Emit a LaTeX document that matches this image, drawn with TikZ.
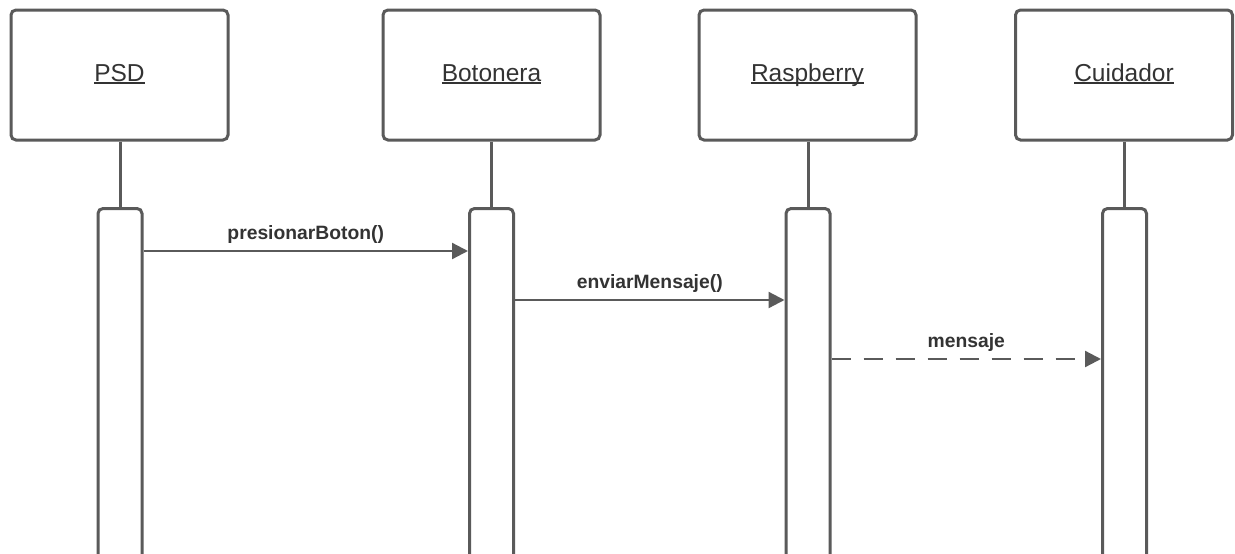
\documentclass[tikz,border=0pt]{standalone}
\usepackage{fontspec}
\setmainfont{Liberation Sans}
\usetikzlibrary{arrows.meta}
\definecolor{ln}{HTML}{5A5A5A}
\definecolor{tx}{HTML}{333333}
\newcommand\myul[1]{\setbox0\hbox{#1}\rlap{\rule[-2.8pt]{\wd0}{1.6pt}}\box0}
\tikzset{
  head/.style={draw=ln, line width=3pt, rounded corners=5pt, minimum width=217pt, minimum height=130pt, inner sep=0pt, fill=white, text=tx, text height=17pt, text depth=5pt, font=\fontsize{24.5}{29}\selectfont},
  act/.style={draw=ln, line width=3pt, rounded corners=5pt, minimum width=44pt, minimum height=380pt, anchor=north, inner sep=0pt, fill=white},
  life/.style={draw=ln, line width=3pt},
  msg/.style={draw=ln, line width=2.3pt, -{Triangle[length=16pt,width=16pt]}},
  dmsg/.style={msg, dash pattern=on 19pt off 13pt},
  lbl/.style={text=tx, font=\bfseries\fontsize{19.3}{23}\selectfont, inner sep=0pt, text depth=0pt}
}
\begin{document}
\begin{tikzpicture}[x=1pt,y=-1pt]
\useasboundingbox (0,0) rectangle (1235,554);
\clip (0,0) rectangle (1235,554);
\fill[white] (0,0) rectangle (1235,554);
\node[head] (h1) at (119.5,75) {\myul{PSD}};
\node[head] (h2) at (491.5,75) {\myul{Botonera}};
\node[head] (h3) at (807.5,75) {\myul{Raspberry}};
\node[head] (h4) at (1124,75) {\myul{Cuidador}};
\node[act] (a1) at (120,207) {};
\node[act] (a2) at (491.5,207) {};
\node[act] (a3) at (808,207) {};
\node[act] (a4) at (1124.5,207) {};
\draw[life] (h1.south -| a1.north) -- (a1.north);
\draw[life] (h2.south -| a2.north) -- (a2.north);
\draw[life] (h3.south -| a3.north) -- (a3.north);
\draw[life] (h4.south -| a4.north) -- (a4.north);
\draw[msg] ([yshift=-44pt]a1.north east) -- node[lbl, above=10pt] (l1) {presionarBoton()} ([yshift=-44pt]a2.north west);
\draw[msg] ([yshift=-93pt]a2.north east) -- node[lbl, above=10pt] (l2) {enviarMensaje()} ([yshift=-93pt]a3.north west);
\draw[dmsg] ([yshift=-152pt]a3.north east) -- node[lbl, above=10pt] (l3) {mensaje} ([yshift=-152pt]a4.north west);
\end{tikzpicture}
\end{document}
